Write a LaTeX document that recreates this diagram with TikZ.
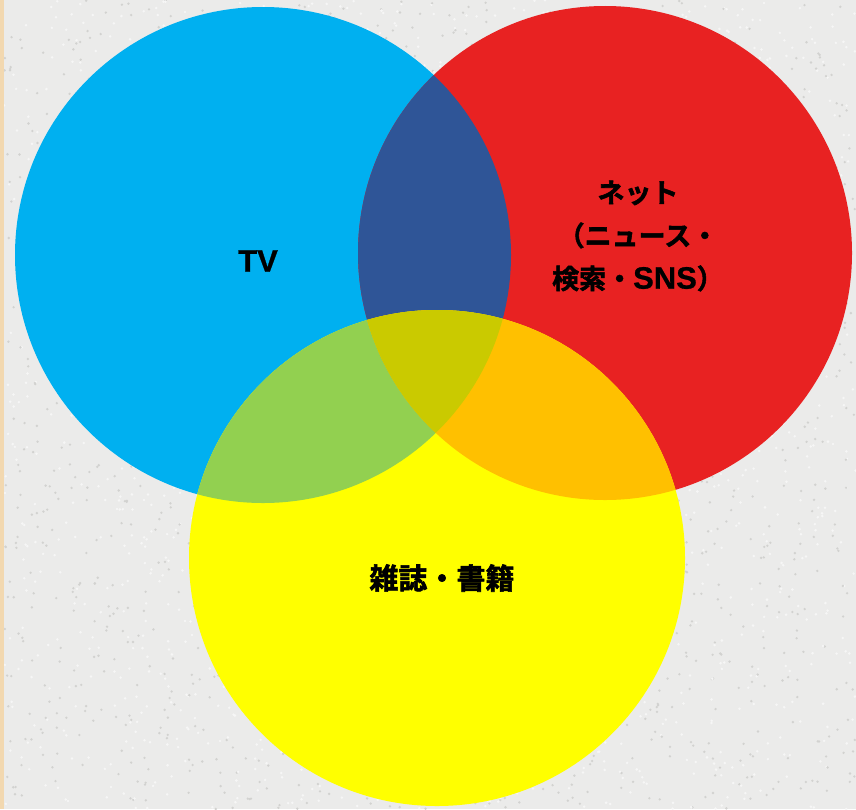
\documentclass[tikz,border=0pt]{standalone}
\usepackage{fontspec}
\setmainfont{Noto Sans CJK JP}[BoldFont={* Bold},BoldFeatures={FakeBold=2}]
\newfontfamily\lat{Liberation Sans}[BoldFeatures={FakeBold=0.8}]
\definecolor{bgc}{HTML}{EBEBEA}
\definecolor{bgdot}{HTML}{D2D2D0}
\definecolor{bglt}{HTML}{F6F6F6}
\definecolor{tanc}{HTML}{F2D8B0}
\definecolor{tvblue}{HTML}{00B0F0}
\definecolor{netred}{HTML}{E82222}
\definecolor{bookyel}{HTML}{FFFF00}
\definecolor{dblue}{HTML}{2F5597}
\definecolor{lgreen}{HTML}{92D050}
\definecolor{orng}{HTML}{FFC000}
\definecolor{olive}{HTML}{CACA00}
\tikzset{lbl/.style={text=black, align=center, inner sep=0pt}}
\begin{document}
\begin{tikzpicture}[x=1pt,y=-1pt]
\useasboundingbox (0,0) rectangle (856,809);
\fill[bgc] (0,0) rectangle (856,809);
\pgfmathsetseed{7}
\foreach \i in {1,...,1800}{
  \pgfmathsetmacro{\px}{4+rnd*852}\pgfmathsetmacro{\py}{rnd*809}
  \fill[bgdot] (\px,\py) circle[radius=1.3];
  \pgfmathsetmacro{\qx}{4+rnd*852}\pgfmathsetmacro{\qy}{rnd*809}
  \fill[bglt] (\qx,\qy) circle[radius=1.4];
}
\fill[tanc] (0,0) rectangle (4,809);
\coordinate (cb) at (263,255);
\coordinate (cr) at (605,253);
\coordinate (cy) at (437,558);
\def\rb{248}\def\rr{247}\def\ry{248}
\fill[tvblue] (cb) circle[radius=\rb];
\fill[netred] (cr) circle[radius=\rr];
\fill[bookyel] (cy) circle[radius=\ry];
\begin{scope}
\clip (cb) circle[radius=\rb];
\fill[dblue] (cr) circle[radius=\rr];
\fill[lgreen] (cy) circle[radius=\ry];
\clip (cr) circle[radius=\rr];
\fill[olive] (cy) circle[radius=\ry];
\end{scope}
\begin{scope}
\clip (cr) circle[radius=\rr];
\clip (cy) circle[radius=\ry];
\fill[orng] (cb) ++(-600,-600) rectangle ++(1400,1400);
\fill[olive] (cb) circle[radius=\rb];
\end{scope}
\node[lbl, font=\lat\bfseries\fontsize{31}{36}\selectfont] (tv) at (258,261) {TV};
\node[lbl, font=\bfseries\fontsize{27}{43}\selectfont] (net) at (638,236) {ネット\\（ニュース・\\検索・{\lat\bfseries\fontsize{31}{36}\selectfont SNS}）};
\node[lbl, font=\bfseries\fontsize{29}{34}\selectfont] (book) at (442,578) {雑誌・書籍};
\end{tikzpicture}
\end{document}
